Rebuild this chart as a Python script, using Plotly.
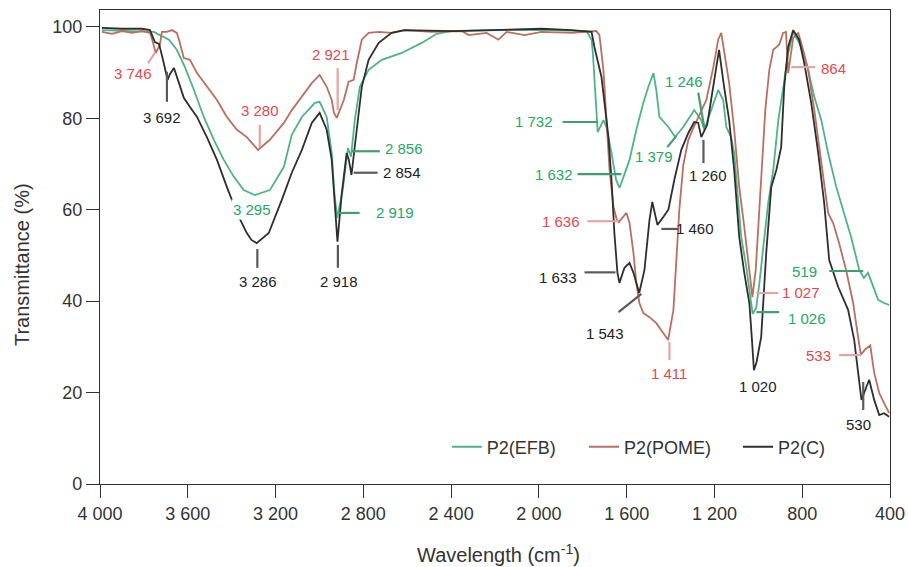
import plotly.graph_objects as go

# ---- FTIR spectra (wavenumber in cm-1, transmittance in %) ----
wn_efb = [3991, 3854, 3754, 3727, 3686, 3650, 3613, 3572, 3527, 3481, 3436, 3390, 3345, 3295, 3226,
          3162, 3126, 3080, 3021, 2999, 2967, 2944, 2932, 2919, 2894, 2870, 2856, 2839, 2816, 2776,
          2716, 2625, 2534, 2466, 2398, 2170, 1943, 1783, 1760, 1754, 1744, 1738, 1732, 1706, 1692,
          1669, 1648, 1632, 1587, 1556, 1524, 1501, 1478, 1465, 1451, 1410, 1379, 1342, 1292, 1260,
          1246, 1215, 1183, 1160, 1146, 1124, 1110, 1091, 1078, 1055, 1040, 1026, 1010, 995, 977,
          955, 932, 909, 886, 864, 841, 804, 773, 745, 713, 682, 645, 609, 577, 540, 519, 500, 477,
          454, 427, 404]
t_efb = [99.3, 99.1, 98.9, 98.2, 97.2, 95.0, 91.2, 86.2, 80.3, 75.3, 70.9, 67.2, 64.3, 63.2, 64.3,
         69.4, 76.4, 80.3, 83.4, 83.6, 80.3, 72.4, 63.7, 58.2, 64.3, 73.5, 71.6, 79.6, 86.9, 90.6,
         92.8, 94.3, 96.5, 98.5, 99.1, 99.3, 99.3, 99.1, 97.2, 94.3, 86.9, 80.3, 77.0, 79.6, 78.1,
         72.4, 66.5, 64.8, 70.9, 77.5, 83.4, 86.9, 89.9, 86.2, 80.3, 78.1, 75.9, 78.1, 81.8, 79.6,
         77.5, 81.8, 86.2, 84.0, 78.1, 75.9, 72.4, 61.5, 54.0, 47.5, 41.5, 37.2, 38.5, 44.0, 52.0,
         61.5, 68.7, 79.6, 86.9, 94.3, 98.9, 95.6, 90.6, 84.7, 79.6, 72.4, 65.0, 59.3, 54.0, 46.8,
         45.1, 46.2, 43.1, 40.3, 39.6, 39.2]

wn_pome = [3991, 3945, 3900, 3854, 3809, 3772, 3758, 3746, 3727, 3718, 3695, 3672, 3650, 3640, 3618,
           3590, 3558, 3513, 3467, 3422, 3376, 3331, 3280, 3226, 3162, 3126, 3080, 3035, 2999, 2967,
           2944, 2934, 2921, 2889, 2867, 2844, 2830, 2807, 2776, 2730, 2671, 2612, 2489, 2352, 2320,
           2238, 2184, 2147, 2065, 1988, 1851, 1738, 1724, 1706, 1692, 1678, 1660, 1645, 1636, 1601,
           1587, 1569, 1556, 1542, 1524, 1496, 1465, 1433, 1411, 1387, 1374, 1360, 1342, 1319, 1296,
           1269, 1237, 1205, 1183, 1169, 1156, 1133, 1110, 1087, 1064, 1045, 1035, 1027, 1012, 995,
           982, 968, 950, 932, 905, 887, 874, 864, 841, 818, 796, 773, 745, 713, 682, 659, 632, 600,
           568, 548, 533, 512, 490, 472, 449, 427, 404]
t_pome = [98.9, 98.5, 99.1, 98.7, 99.1, 98.7, 96.5, 94.3, 96.1, 98.9, 98.9, 99.3, 98.7, 97.2, 93.2,
          92.8, 89.9, 86.9, 84.0, 80.3, 77.5, 75.9, 73.1, 75.3, 79.0, 81.8, 84.7, 87.7, 89.5, 86.9,
          84.0, 81.2, 80.1, 84.0, 88.0, 88.4, 92.1, 97.2, 98.7, 98.9, 98.7, 99.3, 98.9, 99.1, 98.2,
          98.7, 97.2, 98.9, 98.2, 98.9, 98.7, 99.1, 98.2, 90.6, 79.6, 68.7, 60.6, 57.8, 57.3, 59.3,
          57.1, 50.5, 44.0, 39.6, 37.4, 36.5, 35.2, 33.0, 31.5, 38.1, 49.0, 60.0, 69.8, 75.3, 77.9,
          80.7, 84.0, 91.2, 97.2, 98.7, 95.0, 87.7, 77.5, 65.0, 56.2, 48.0, 43.5, 40.9, 46.8, 60.0,
          70.0, 82.0, 90.6, 95.0, 96.1, 98.7, 98.9, 89.9, 97.6, 98.7, 95.0, 90.6, 81.8, 70.2, 59.3,
          57.1, 52.7, 46.8, 39.6, 33.0, 28.3, 29.5, 30.3, 24.3, 19.9, 17.7, 15.5]

wn_c = [3991, 3900, 3809, 3772, 3750, 3731, 3713, 3692, 3681, 3663, 3640, 3618, 3590, 3558, 3513,
        3467, 3422, 3376, 3331, 3310, 3286, 3231, 3172, 3126, 3080, 3035, 2999, 2967, 2944, 2930,
        2918, 2898, 2876, 2866, 2854, 2830, 2807, 2776, 2730, 2671, 2612, 2398, 2170, 1988, 1851,
        1760, 1747, 1715, 1701, 1683, 1669, 1656, 1642, 1633, 1610, 1587, 1569, 1543, 1519, 1496,
        1483, 1470, 1460, 1433, 1410, 1383, 1351, 1319, 1292, 1274, 1260, 1233, 1215, 1179, 1156,
        1133, 1110, 1087, 1064, 1041, 1030, 1020, 1008, 987, 964, 941, 918, 896, 882, 864, 841,
        814, 791, 759, 727, 700, 677, 636, 591, 563, 545, 530, 495, 472, 449, 427, 404]
t_c = [99.8, 99.6, 99.6, 99.3, 96.7, 96.3, 92.8, 88.4, 89.7, 91.0, 87.7, 84.5, 82.5, 80.3, 75.9,
       70.9, 65.0, 59.3, 54.9, 53.4, 52.7, 54.9, 62.1, 68.1, 73.1, 79.0, 81.2, 77.5, 70.9, 60.6,
       53.0, 63.7, 72.4, 70.9, 67.6, 77.5, 86.9, 92.8, 96.5, 98.7, 99.3, 99.1, 99.3, 99.6, 99.3,
       98.9, 95.6, 89.1, 83.4, 75.9, 66.5, 54.9, 46.2, 44.0, 47.3, 48.4, 46.2, 41.8, 46.8, 57.8,
       61.7, 58.4, 56.7, 58.4, 60.0, 66.5, 73.1, 76.8, 79.2, 79.0, 75.9, 78.6, 84.0, 95.0, 86.9,
       79.6, 68.7, 54.0, 46.2, 39.6, 32.2, 24.9, 26.7, 32.2, 50.5, 65.0, 68.7, 73.7, 86.9, 95.6, 99.3,
       97.2, 92.1, 83.4, 72.4, 61.5, 49.0, 43.1, 38.1, 31.5, 24.3, 18.4, 22.8, 18.4, 15.1, 15.5, 14.7]

series_names = ["P2(EFB)", "P2(POME)", "P2(C)"]
series_colors = ["#4db488", "#b9705f", "#2e2e2e"]

x_tick_vals = [4000, 3600, 3200, 2800, 2400, 2000, 1600, 1200, 800, 400]
x_tick_text = ["4 000", "3 600", "3 200", "2 800", "2 400", "2 000", "1 600", "1 200", "800", "400"]
y_tick_vals = [0, 20, 40, 60, 80, 100]

# band assignments: text, wavenumber, transmittance, series index, white backing
TXT = {0: "#25a865", 1: "#e5484d", 2: "#222222"}
LEAD = {0: "#3f9e70", 1: "#e6a3a3", 2: "#5a5a5a"}
peak_labels = [
    ("3 746", 3850, 89.9, 1, False),
    ("3 692", 3718, 80.1, 2, True),
    ("3 280", 3272, 81.8, 1, True),
    ("2 921", 2948, 93.9, 1, True),
    ("3 295", 3308, 60.0, 0, True),
    ("3 286", 3281, 44.2, 2, False),
    ("2 918", 2912, 44.4, 2, False),
    ("2 919", 2657, 59.3, 0, False),
    ("2 856", 2616, 73.3, 0, False),
    ("2 854", 2625, 68.1, 2, False),
    ("1 732", 2024, 79.2, 0, False),
    ("1 632", 1933, 67.8, 0, False),
    ("1 636", 1897, 57.5, 1, False),
    ("1 633", 1915, 45.1, 2, False),
    ("1 543", 1697, 33.0, 2, False),
    ("1 460", 1287, 55.8, 2, False),
    ("1 411", 1405, 24.1, 1, False),
    ("1 379", 1474, 71.6, 0, False),
    ("1 246", 1337, 88.0, 0, True),
    ("1 260", 1228, 67.6, 2, False),
    ("1 020", 1000, 21.4, 2, False),
    ("1 027", 805, 41.8, 1, False),
    ("1 026", 777, 36.3, 0, False),
    ("519", 791, 46.6, 0, False),
    ("533", 727, 28.2, 1, False),
    ("530", 545, 13.1, 2, False),
    ("864", 659, 91.0, 1, False),
]
# leader lines: x0, y0, x1, y1, series index
leaders = [
    (3781, 92.1, 3750, 94.3, 1),
    (3695, 90.2, 3695, 83.6, 2),
    (3272, 78.6, 3272, 73.7, 1),
    (2917, 91.0, 2917, 81.8, 1),
    (3283, 51.4, 3283, 47.3, 2),
    (2916, 52.3, 2916, 47.3, 2),
    (2912, 59.3, 2817, 59.3, 0),
    (2853, 72.8, 2725, 72.8, 0),
    (2844, 68.1, 2735, 68.1, 2),
    (1892, 79.2, 1733, 79.2, 0),
    (1824, 67.8, 1624, 67.8, 0),
    (1779, 57.5, 1637, 57.5, 1),
    (1792, 46.3, 1651, 46.3, 2),
    (1637, 37.6, 1533, 41.6, 2),
    (1442, 55.8, 1364, 55.8, 2),
    (1405, 31.1, 1405, 27.1, 1),
    (1415, 73.7, 1374, 76.1, 0),
    (1274, 85.6, 1246, 77.9, 0),
    (1250, 75.3, 1250, 70.2, 2),
    (1009, 41.8, 909, 41.8, 1),
    (1009, 37.6, 905, 37.6, 0),
    (677, 46.6, 522, 46.6, 0),
    (632, 28.2, 531, 28.2, 1),
    (522, 22.3, 522, 16.2, 2),
    (850, 91.2, 741, 91.2, 1),
]

# one legend box per series so each key sits at its own spot along the bottom
legend_ids = ["legend", "legend2", "legend3"]
legend_x = [0.439, 0.6127, 0.8076]

fig = go.Figure()
for name, color, xs, ys, lid in zip(series_names, series_colors,
                                    [wn_efb, wn_pome, wn_c], [t_efb, t_pome, t_c], legend_ids):
    fig.add_trace(go.Scatter(x=xs, y=ys, mode="lines", name=name, legend=lid,
                             showlegend=True, line=dict(color=color, width=1.8)))

for x0, y0, x1, y1, s in leaders:
    fig.add_shape(type="line", xref="x", yref="y", x0=x0, y0=y0, x1=x1, y1=y1,
                  line=dict(color=LEAD[s], width=2.2))

for text, x, y, s, backed in peak_labels:
    fig.add_annotation(x=x, y=y, xref="x", yref="y", text=text, showarrow=False,
                       font=dict(size=15, color=TXT[s]),
                       bgcolor="white" if backed else "rgba(0,0,0,0)", borderpad=1)

fig.add_annotation(xref="paper", yref="paper", x=0.505, y=-0.1456,
                   text="Wavelength (cm<sup>-1</sup>)", showarrow=False,
                   font=dict(size=20, color="#333"), yanchor="middle")
fig.add_annotation(xref="paper", yref="paper", x=-0.0987, y=0.462,
                   text="Transmittance (%)", showarrow=False, textangle=-90,
                   font=dict(size=20, color="#333"), xanchor="center", yanchor="middle")

axis_common = dict(showline=True, mirror=True, linecolor="#333", linewidth=1.3,
                   ticks="outside", ticklen=13, tickwidth=1.3, tickcolor="#333",
                   showgrid=False, zeroline=False, automargin=False,
                   tickfont=dict(size=18, color="#333"))
fig.update_xaxes(range=[4000, 400], tickvals=x_tick_vals, ticktext=x_tick_text, **axis_common)
fig.update_yaxes(range=[0, 103.7], tickvals=y_tick_vals, **axis_common)

legend_style = dict(orientation="h", y=0.078, xanchor="left", yanchor="middle",
                    bgcolor="rgba(255,255,255,0.9)", font=dict(size=18))
fig.update_layout(
    width=908, height=567,
    margin=dict(l=100, r=18, t=10, b=83, autoexpand=False),
    paper_bgcolor="white", plot_bgcolor="white",
    showlegend=True,
    font=dict(family="Liberation Sans, Arial, sans-serif", size=18, color="#333"),
    legend=dict(x=legend_x[0], **legend_style),
    legend2=dict(x=legend_x[1], **legend_style),
    legend3=dict(x=legend_x[2], **legend_style),
)

fig.write_html("out.html")
